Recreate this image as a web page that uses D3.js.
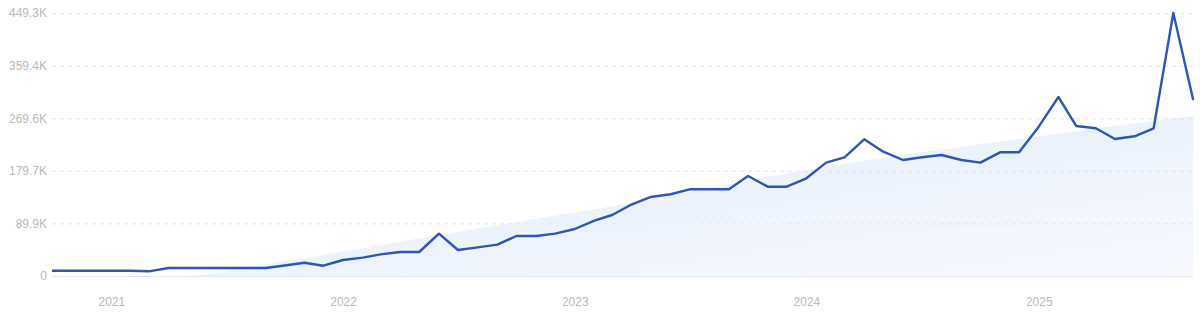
<!DOCTYPE html>
<html>
<head>
<meta charset="utf-8">
<script src="https://cdn.jsdelivr.net/npm/d3@7"></script>
<style>
  html, body { margin: 0; padding: 0; background: #ffffff; }
  svg { display: block; font-family: Inter, "Noto Sans", sans-serif; }
</style>
</head>
<body>
<svg id="chart" width="1200" height="312"></svg>
<script>
// ---- data ----
const months = [
  "2020-10","2020-11","2020-12",
  "2021-01","2021-02","2021-03","2021-04","2021-05","2021-06","2021-07","2021-08","2021-09","2021-10","2021-11","2021-12",
  "2022-01","2022-02","2022-03","2022-04","2022-05","2022-06","2022-07","2022-08","2022-09","2022-10","2022-11","2022-12",
  "2023-01","2023-02","2023-03","2023-04","2023-05","2023-06","2023-07","2023-08","2023-09","2023-10","2023-11","2023-12",
  "2024-01","2024-02","2024-03","2024-04","2024-05","2024-06","2024-07","2024-08","2024-09","2024-10","2024-11","2024-12",
  "2025-01","2025-02","2025-03","2025-04","2025-05","2025-06","2025-07","2025-08","2025-09"
];
// search volume (thousands)
const volume = [
  9.0, 9.0, 9.0,
  9.0, 9.0, 8.0, 13.7, 13.7, 13.7, 13.7, 13.7, 13.7, 17.9, 22.7, 17.6,
  27.3, 31.3, 36.9, 41.0, 41.0, 72.3, 44.4, 49.0, 53.5, 68.3, 68.3, 72.3,
  80.3, 94.5, 104.2, 122.5, 135.0, 139.6, 148.1, 148.1, 148.1, 170.8, 152.6, 152.6,
  166.9, 193.6, 202.8, 233.5, 212.4, 198.2, 202.8, 206.7, 198.2, 193.6, 211.3, 211.3,
  255.1, 305.8, 256.3, 252.3, 234.0, 238.7, 252.3, 449.3, 302.4
];
// trend (thousands)
const trend = [
  0, 0, 0,
  0, 0, 0, 0, 0, 3, 8.5, 14, 19.5, 25, 30.5, 36,
  42, 47.5, 53, 58.5, 64, 69.5, 75, 81, 86.5, 92, 97.5, 103,
  108.5, 114, 119, 125, 131, 137.5, 144, 150, 156.5, 163, 169, 175,
  180.5, 186, 191.5, 197, 202, 207, 211.5, 216, 220.5, 225, 229.5, 234,
  238.5, 243, 247.5, 252, 256.5, 261, 265, 269, 273
];
const yTicks = [0, 89.9, 179.7, 269.6, 359.4, 449.3];
const yearLabels = ["2021", "2022", "2023", "2024", "2025"];

// ---- layout ----
const svg = d3.select("#chart");
const mLeft = 52, mRight = 1193, mTop = 13, mBottom = 276;
const parse = d3.timeParse("%Y-%m");
const dates = months.map(parse);

const x = d3.scaleTime()
  .domain(d3.extent(dates))
  .range([53, mRight]);
const y = d3.scaleLinear()
  .domain([0, d3.max(yTicks)])
  .range([mBottom, mTop]);

const defs = svg.append("defs");
const grad = defs.append("linearGradient")
  .attr("id", "trendGrad")
  .attr("x1", "0%").attr("y1", "0%")
  .attr("x2", "100%").attr("y2", "100%");
grad.append("stop").attr("offset", "0%").attr("stop-color", "#e2ecfb");
grad.append("stop").attr("offset", "55%").attr("stop-color", "#edf3fd");
grad.append("stop").attr("offset", "100%").attr("stop-color", "#f7f9fe");

// trend area (behind grid)
const area = d3.area()
  .x((d, i) => x(dates[i]))
  .y0(mBottom)
  .y1(d => y(d))
  .curve(d3.curveMonotoneX);
svg.append("path")
  .datum(trend)
  .attr("d", area)
  .attr("fill", "url(#trendGrad)");

// y axis + grid
const yAxis = d3.axisLeft(y)
  .tickValues(yTicks)
  .tickFormat(d => d === 0 ? "0" : d3.format(".1f")(d) + "K")
  .tickSizeInner(-(mRight - mLeft))
  .tickSizeOuter(0)
  .tickPadding(5);
const gy = svg.append("g")
  .attr("transform", `translate(${mLeft},0)`)
  .call(yAxis);
gy.select(".domain").remove();
gy.selectAll(".tick line")
  .attr("stroke", "#e2e4e8")
  .attr("stroke-dasharray", "4,4")
  .attr("stroke-width", 1);
gy.selectAll(".tick").filter(d => d === 0).select("line")
  .attr("stroke", "#dfe6f1")
  .attr("stroke-dasharray", null);
gy.selectAll(".tick text")
  .attr("fill", "#b9b9b9")
  .style("font-size", "12px");

// x axis
const yearDates = yearLabels.map(s => d3.timeParse("%Y")(s));
const xAxis = d3.axisBottom(x)
  .tickValues(yearDates)
  .tickFormat(d3.timeFormat("%Y"))
  .tickSize(0)
  .tickPadding(21);
const gx = svg.append("g")
  .attr("transform", `translate(0,${mBottom})`)
  .call(xAxis);
gx.select(".domain").remove();
gx.selectAll(".tick text")
  .attr("fill", "#b9b9b9")
  .style("font-size", "12px");

// line
const line = d3.line()
  .x((d, i) => x(dates[i]))
  .y(d => y(d));
svg.append("path")
  .datum(volume)
  .attr("d", line)
  .attr("fill", "none")
  .attr("stroke", "#2f56b5")
  .attr("stroke-width", 2.4)
  .attr("stroke-linejoin", "round")
  .attr("stroke-linecap", "round");
</script>
</body>
</html>
